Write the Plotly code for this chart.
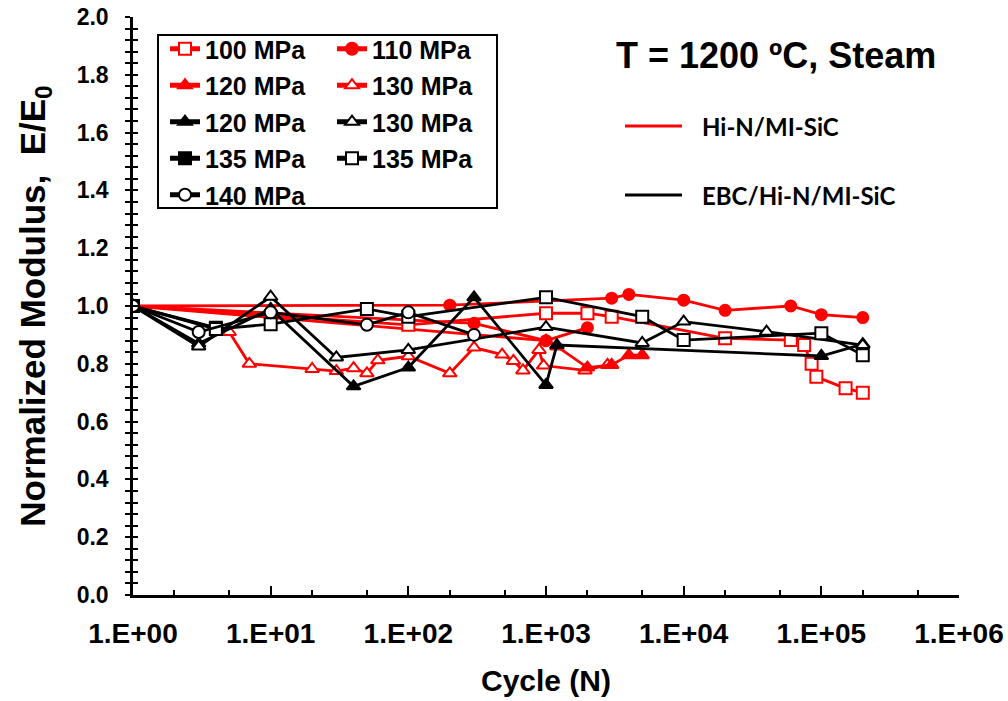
import plotly.graph_objects as go

# ---------------- data ----------------
x_100 = [1, 100, 1000, 2000, 3000, 20000, 60000, 75000, 85000, 92000, 150000, 200000]
y_100 = [1.00, 0.935, 0.975, 0.975, 0.963, 0.888, 0.882, 0.865, 0.80, 0.755, 0.715, 0.70]

x_110 = [1, 200, 3000, 4000, 10000, 20000, 60000, 100000, 200000]
y_110 = [1.00, 1.003, 1.027, 1.04, 1.02, 0.985, 1.00, 0.97, 0.96]

x_110b = [1, 300, 1000, 2000]
y_110b = [1.00, 0.94, 0.88, 0.925]

x_120r = [1, 1000, 1200, 2000, 3000, 4000, 5000]
y_120r = [1.00, 0.88, 0.86, 0.787, 0.796, 0.83, 0.83]

x_130r = [1, 5, 7, 20, 30, 40, 50, 60, 100, 200, 300, 480, 580, 680, 890, 960, 1920, 2800]
y_130r = [1.00, 0.91, 0.80, 0.782, 0.775, 0.785, 0.767, 0.812, 0.826, 0.767, 0.856, 0.832, 0.81, 0.777, 0.848, 0.794, 0.777, 0.796]

x_120b = [1, 3, 10, 40, 100, 300, 1000, 1200, 100000, 200000]
y_120b = [1.00, 0.87, 0.99, 0.722, 0.787, 1.03, 0.727, 0.865, 0.827, 0.868]

x_130b = [1, 3, 10, 30, 100, 1000, 5000, 10000, 40000, 200000]
y_130b = [1.00, 0.86, 1.032, 0.822, 0.848, 0.927, 0.872, 0.946, 0.911, 0.865]

x_135f = [1, 4]
y_135f = [1.00, 0.925]

x_135o = [1, 4, 10, 50, 100, 1000, 5000, 10000, 100000, 200000]
y_135o = [1.00, 0.92, 0.937, 0.99, 0.963, 1.03, 0.963, 0.882, 0.906, 0.83]

x_140 = [1, 3, 10, 50, 100, 300]
y_140 = [1.00, 0.91, 0.978, 0.935, 0.978, 0.90]

x_tickvals = [1, 10, 100, 1000, 10000, 100000, 1000000]
x_ticktext = ["1.E+00", "1.E+01", "1.E+02", "1.E+03", "1.E+04", "1.E+05", "1.E+06"]
y_tickvals = [0.0, 0.2, 0.4, 0.6, 0.8, 1.0, 1.2, 1.4, 1.6, 1.8, 2.0]
y_ticktext = ["0.0", "0.2", "0.4", "0.6", "0.8", "1.0", "1.2", "1.4", "1.6", "1.8", "2.0"]

RED = "#FF0000"
BLK = "#000000"
BOLD = "Liberation Sans, Arial"
NARROW = "Liberation Sans Narrow, Arial Narrow, Liberation Sans"

W, H = 1008, 701
L, R, T, B = 133, 49, 17, 106
PW, PH = W - L - R, H - T - B


def px(xp):
    return (xp - L) / PW


def py(yp):
    return (H - B - yp) / PH


fig = go.Figure()


def add(x, y, name, color, symbol, filled, legend, group, rank, show=True, size=12):
    fig.add_trace(go.Scatter(
        x=x, y=y, name=name, mode="lines+markers",
        line=dict(color=color, width=2.8),
        marker=dict(symbol=symbol, size=size,
                    color=color if filled else "white",
                    line=dict(color=color, width=2)),
        legend=legend, showlegend=show, legendgroup=group, legendrank=rank,
    ))


# red (Hi-N/MI-SiC)
add(x_130r, y_130r, "130 MPa", RED, "triangle-up", False, "legend2", "r130", 2)
add(x_120r, y_120r, "120 MPa", RED, "triangle-up", True, "legend", "r120", 2)
add(x_110b, y_110b, "110 MPa", RED, "circle", True, "legend2", "r110b", 9, show=False, size=11)
add(x_100, y_100, "100 MPa", RED, "square", False, "legend", "r100", 1)
add(x_110, y_110, "110 MPa", RED, "circle", True, "legend2", "r110", 1, size=11)
# black (EBC/Hi-N/MI-SiC)
add(x_120b, y_120b, "120 MPa", BLK, "triangle-up", True, "legend", "b120", 3)
add(x_130b, y_130b, "130 MPa", BLK, "triangle-up", False, "legend2", "b130", 3)
add(x_135f, y_135f, "135 MPa", BLK, "square", True, "legend", "b135f", 4)
add(x_135o, y_135o, "135 MPa", BLK, "square", False, "legend2", "b135o", 4)
add(x_140, y_140, "140 MPa", BLK, "circle", False, "legend", "b140", 5)

legend_common = dict(
    font=dict(family=BOLD, size=25, color="black", weight="bold"),
    bgcolor="rgba(0,0,0,0)", borderwidth=0,
    tracegroupgap=1, itemsizing="constant",
    xanchor="left", yanchor="top", traceorder="grouped",
)

fig.update_layout(
    width=W, height=H,
    margin=dict(l=L, r=R, t=T, b=B),
    paper_bgcolor="white", plot_bgcolor="white",
    font=dict(family=BOLD, color="black"),
    legend=dict(x=px(165), y=py(26), **legend_common),
    legend2=dict(x=px(332), y=py(26), **legend_common),
    xaxis=dict(
        type="log", range=[0, 6], automargin=False,
        tickvals=x_tickvals, ticktext=x_ticktext,
        tickfont=dict(family=NARROW, size=28, weight="bold"),
        ticks="inside", ticklen=9, tickwidth=1.5, tickcolor="black",
        minor=dict(ticks="inside", ticklen=5, tickwidth=1.5, tickcolor="black", showgrid=False),
        showline=True, linecolor="black", linewidth=2.5,
        showgrid=False, zeroline=False,
        title=dict(text="Cycle (N)", font=dict(family=NARROW, size=30, weight="bold"), standoff=22),
        ticklabelstandoff=12,
    ),
    yaxis=dict(
        range=[0, 2], automargin=False,
        tickvals=y_tickvals, ticktext=y_ticktext,
        tickfont=dict(family=BOLD, size=23, weight="bold"),
        ticks="outside", ticklen=5, tickwidth=1.5, tickcolor="black",
        minor=dict(ticks="outside", ticklen=5, tickwidth=1.5, tickcolor="black", dtick=0.04, showgrid=False),
        showline=True, linecolor="black", linewidth=2.5,
        showgrid=False, zeroline=False,
        ticklabelstandoff=12,
        title=dict(text="Normalized Modulus,  E/E<sub>0</sub>", font=dict(family=BOLD, size=35, weight="bold"), standoff=21),
    ),
    yaxis2=dict(
        overlaying="y", matches="y", range=[0, 2], side="left", automargin=False,
        tickvals=y_tickvals, showticklabels=False,
        ticks="inside", ticklen=5, tickwidth=1.5, tickcolor="black",
        minor=dict(ticks="inside", ticklen=5, tickwidth=1.5, tickcolor="black", dtick=0.04),
        showline=False, showgrid=False, zeroline=False,
    ),
)

# invisible trace to activate yaxis2
fig.add_trace(go.Scatter(x=[1], y=[1], yaxis="y2", mode="markers",
                         marker=dict(opacity=0), showlegend=False, hoverinfo="skip"))

# legend box
fig.add_shape(type="rect", xref="paper", yref="paper",
              x0=px(158), x1=px(497), y0=py(208), y1=py(35),
              line=dict(color="black", width=2))

# title text
fig.add_annotation(text="T = 1200 ºC, Steam", xref="paper", yref="paper",
                   x=px(776), y=py(55), xanchor="center", yanchor="middle", showarrow=False,
                   font=dict(family=BOLD, size=36, weight="bold", color="black"))

# material key
for yy, col, txt in [(126, RED, "Hi-N/MI-SiC"), (195, BLK, "EBC/Hi-N/MI-SiC")]:
    fig.add_shape(type="line", xref="paper", yref="paper",
                  x0=px(625), x1=px(682), y0=py(yy), y1=py(yy),
                  line=dict(color=col, width=3))
    fig.add_annotation(text=txt, xref="paper", yref="paper",
                       x=px(700), y=py(yy), xanchor="left", yanchor="middle", showarrow=False,
                       font=dict(family="Lato, Open Sans", size=24, weight="bold", color="black"))

fig.write_html("out.html")
